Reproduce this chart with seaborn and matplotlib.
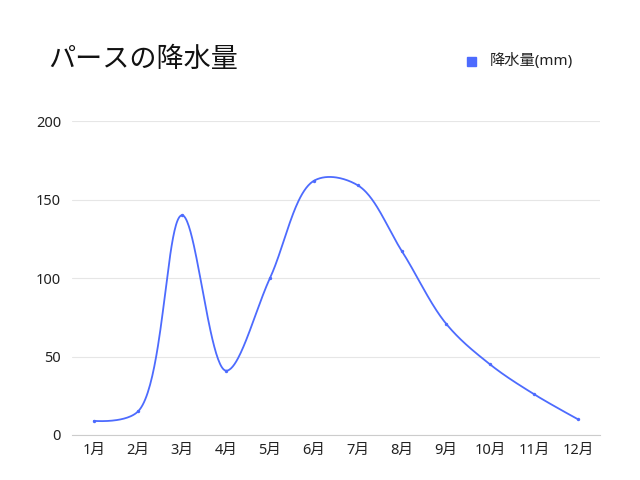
import numpy as np
import pandas as pd
import matplotlib
matplotlib.use("Agg")
import matplotlib.pyplot as plt
import seaborn as sns

months = ["1月", "2月", "3月", "4月", "5月", "6月", "7月", "8月", "9月", "10月", "11月", "12月"]
rainfall = [9, 15, 140, 41, 100, 162, 159, 117, 71, 45, 26, 10]
series_name = "降水量(mm)"
title = "パースの降水量"
y_ticks = [0, 50, 100, 150, 200]

sns.set_theme(style="white")
plt.rcParams['font.family'] = ['Noto Sans', 'Noto Sans CJK JP', 'DejaVu Sans']

color = "#4d6bfe"
fig = plt.figure(figsize=(6.4, 4.8), dpi=100)
ax = fig.add_axes([0.1125, 0.09375, 0.825, 0.654])
ax.set_xlim(-0.5, len(months) - 0.5)
ax.set_ylim(0, 200)

# centripetal Catmull-Rom curve through the points (computed in pixel space)
fig.canvas.draw()
xs = np.arange(len(months))
pts = ax.transData.transform(np.column_stack([xs, rainfall]))
alpha = 0.5
n = len(pts)
ext = np.vstack([pts[0], pts, pts[-1]])
curve = []
t = np.linspace(0, 1, 50)[:, None]
for i in range(n - 1):
    p0, p1, p2, p3 = ext[i], ext[i + 1], ext[i + 2], ext[i + 3]
    l01 = np.linalg.norm(p1 - p0); l12 = np.linalg.norm(p2 - p1); l23 = np.linalg.norm(p3 - p2)
    l01a, l12a, l23a = l01 ** alpha, l12 ** alpha, l23 ** alpha
    l01_2a, l12_2a, l23_2a = l01 ** (2 * alpha), l12 ** (2 * alpha), l23 ** (2 * alpha)
    c1 = p1.copy(); c2 = p2.copy()
    if l01a > 1e-9:
        a = 2 * l01_2a + 3 * l01a * l12a + l12_2a
        m = 3 * l01a * (l01a + l12a)
        c1 = (p1 * a - p0 * l12_2a + p2 * l01_2a) / m
    if l23a > 1e-9:
        b = 2 * l23_2a + 3 * l23a * l12a + l12_2a
        m = 3 * l23a * (l23a + l12a)
        c2 = (p2 * b + p1 * l23_2a - p3 * l12_2a) / m
    seg = (1 - t) ** 3 * p1 + 3 * (1 - t) ** 2 * t * c1 + 3 * (1 - t) * t ** 2 * c2 + t ** 3 * p2
    curve.append(seg if i == 0 else seg[1:])
curve = np.vstack(curve)
curve_data = ax.transData.inverted().transform(curve)
df_curve = pd.DataFrame({"x": curve_data[:, 0], "y": curve_data[:, 1]})
sns.lineplot(data=df_curve, x="x", y="y", ax=ax, color=color, linewidth=1.3,
             sort=False, estimator=None, legend=False)
df = pd.DataFrame({"x": xs, "y": rainfall})
sns.scatterplot(data=df, x="x", y="y", ax=ax, color=color, s=6, linewidth=0, legend=False, zorder=3)

ax.set_xticks(xs)
ax.set_xticklabels(months)
ax.set_yticks(y_ticks)
ax.set_xlabel("")
ax.set_ylabel("")
ax.yaxis.grid(True, color="#e6e6e6", linewidth=0.8)
ax.set_axisbelow(True)
for side in ["top", "right", "left"]:
    ax.spines[side].set_visible(False)
ax.spines["bottom"].set_color("#cccccc")
ax.spines["bottom"].set_linewidth(0.8)
ax.tick_params(axis="both", length=0, labelsize=10.5, colors="#222222")
ax.tick_params(axis="x", pad=6)
ax.tick_params(axis="y", pad=8)

fig.text(0.075, 1 - 59 / 480, title, fontsize=19.5, color="#111111", va="center", ha="left",
         family=['Noto Sans CJK JP', 'DejaVu Sans'])
fig.patches.append(plt.Rectangle((467 / 640, 1 - 66 / 480), 9 / 640, 9 / 480,
                                 transform=fig.transFigure, color=color, figure=fig))
fig.text(490 / 640, 1 - 61 / 480, series_name, fontsize=11, color="#222222", va="center", ha="left")

fig.savefig("out.png", dpi=100)
